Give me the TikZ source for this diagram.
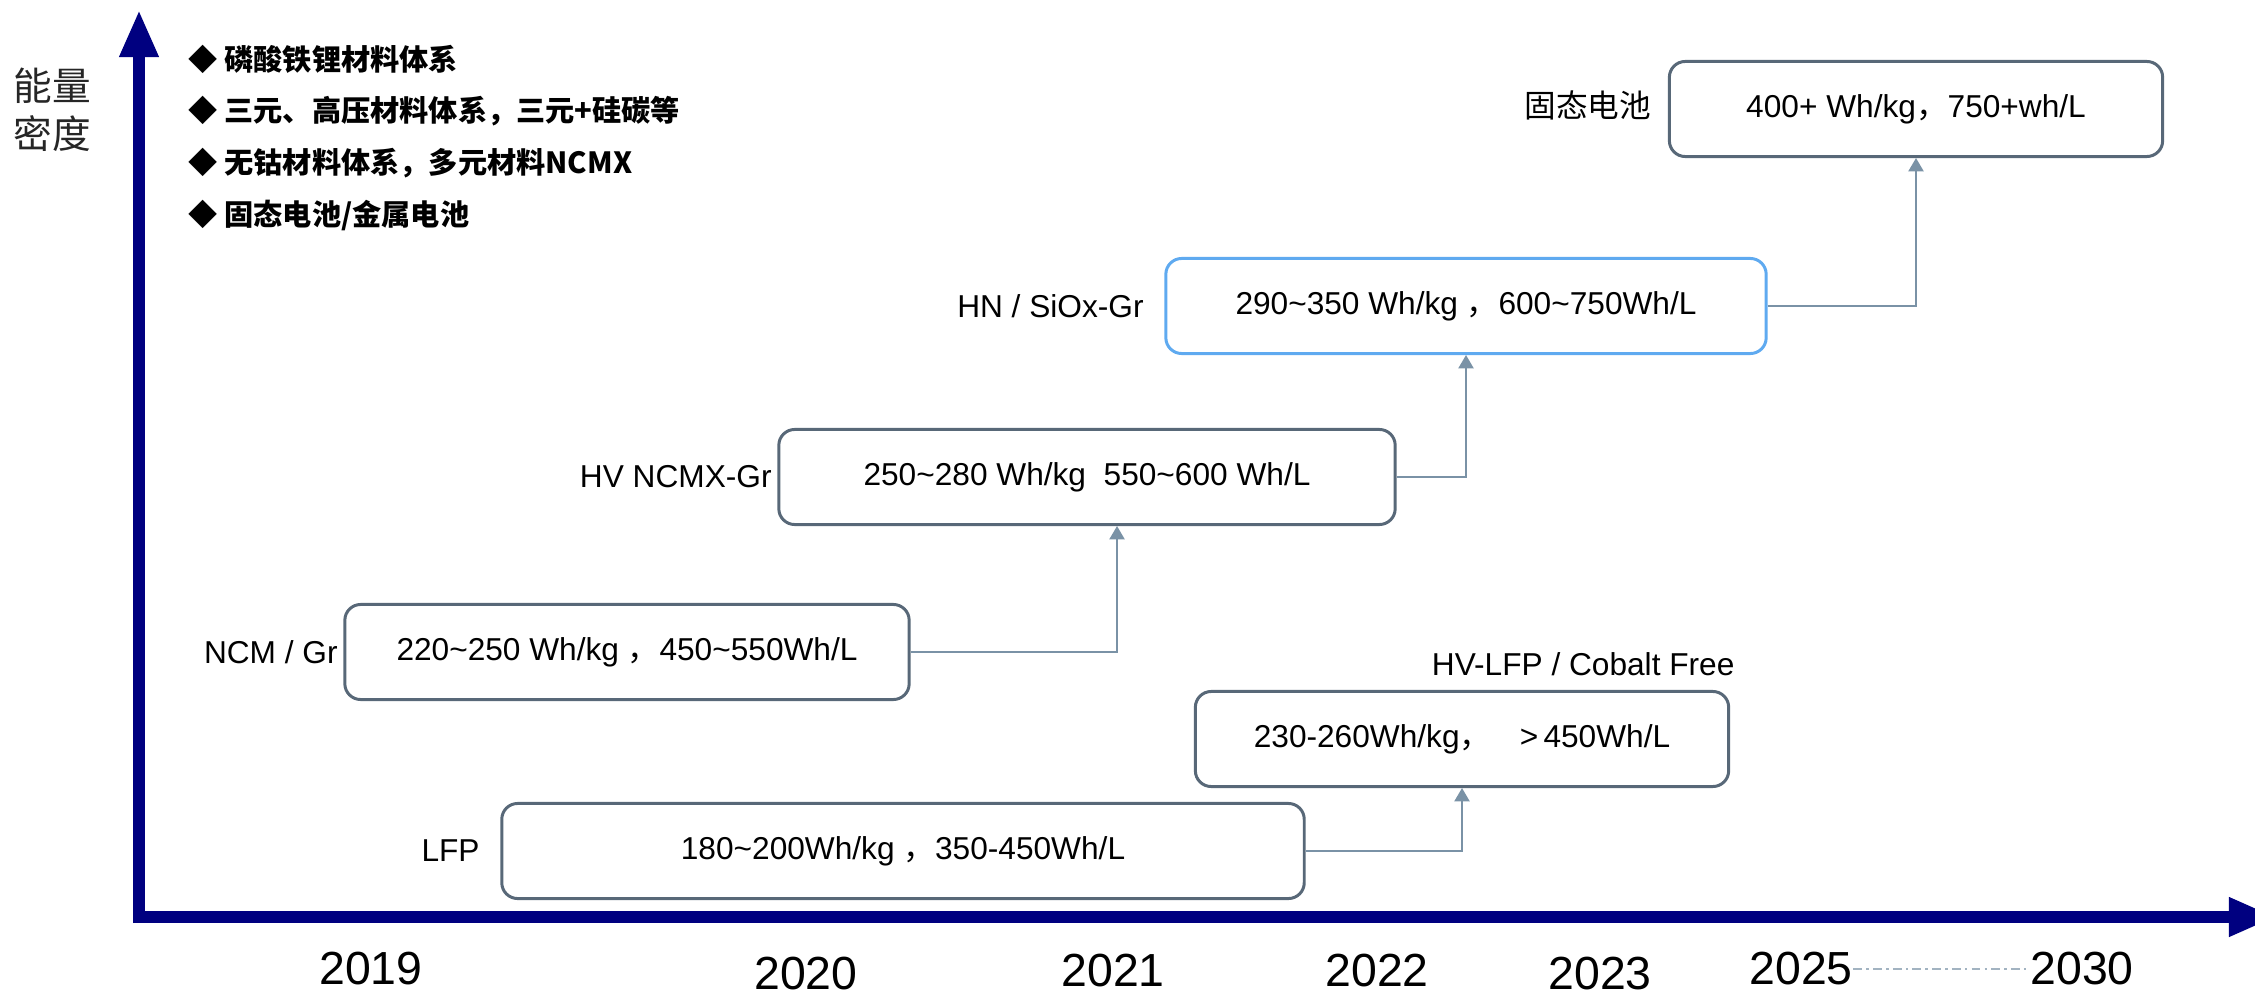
\documentclass[tikz,border=0pt]{standalone}
\usepackage{fontspec}
\setmainfont{Liberation Sans}
\newfontfamily\cjk{Noto Sans CJK SC}
\usepackage{tikz}
\usetikzlibrary{positioning, arrows.meta}
\definecolor{axisnavy}{RGB}{0, 0, 128}
\definecolor{boxgray}{RGB}{88, 104, 120}
\definecolor{boxblue}{RGB}{95, 170, 240}
\definecolor{linkgray}{RGB}{122, 146, 166}
\newcommand{\tld}{\textasciitilde}
\newcommand{\fw}{{\cjk ，}}

\begin{document}
\begin{tikzpicture}[x=0.01cm, y=-0.01cm,
    cellbox/.style={draw=boxgray, line width=0.85pt, rounded corners=4.5pt, inner sep=0pt,
        minimum height=0.95cm, font=\fontsize{9}{11}\selectfont},
    lbl/.style={inner sep=0pt, font=\fontsize{9}{11}\selectfont},
    yr/.style={inner sep=0pt, font=\fontsize{13.2}{15}\selectfont},
    legend/.style={inner sep=0pt, anchor=west, font=\cjk\bfseries\fontsize{8.3}{10}\selectfont},
    link/.style={draw=linkgray, line width=0.55pt, -{Triangle[length=3.8pt, width=4.3pt]}},
    axisline/.style={draw=axisnavy, line width=3.2pt}]
    \clip (0,0) rectangle (2255,997);
    \coordinate (orig) at (139,917);
    \coordinate (ybot) at (139,923);
    \coordinate (ytop) at (139,10);
    \coordinate (xend) at (2276,917);
    \draw[axisline, -{Triangle[length=13.4pt, width=10.4pt]}] (ybot) -- (ytop);
    \draw[axisline, -{Triangle[length=13.4pt, width=10.4pt]}] (orig) -- (xend);
    \node[font=\cjk\fontsize{11}{13.6}\selectfont, align=center, text=black!85] (ylbl) at (52,110) {能量\\密度};
    \foreach \txt [count=\i] in {磷酸铁锂材料体系, 三元、高压材料体系，三元+硅碳等, 无钴材料体系，多元材料NCMX, 固态电池/金属电池}
    {
        \node[legend] (leg\i) at (188,{7+52*\i}) {◆ \txt};
    }
    \node[cellbox, minimum width=8.02cm] (lfp) at (903,851) {180\tld200Wh/kg \fw350-450Wh/L};
    \node[cellbox, minimum width=5.33cm] (hvlfp) at (1462,739) {230-260Wh/kg\fw\hspace{0.9em}>\,450Wh/L};
    \node[cellbox, minimum width=5.64cm] (ncm) at (627,652) {220\tld250 Wh/kg \fw450\tld550Wh/L};
    \node[cellbox, minimum width=6.16cm] (hvncmx) at (1087,477) {250\tld280 Wh/kg\ \ 550\tld600 Wh/L};
    \node[cellbox, draw=boxblue, minimum width=6cm] (hn) at (1466,306) {290\tld350 Wh/kg \fw600\tld750Wh/L};
    \node[cellbox, minimum width=4.93cm] (ss) at (1916,109) {400+ Wh/kg\fw750+wh/L};
    \node[lbl, left=0.2cm of lfp] (lfplbl) {LFP};
    \node[lbl, anchor=east] (hvlfplbl) at ([xshift=0.05cm, yshift=0.26cm]hvlfp.north east) {HV-LFP / Cobalt Free};
    \node[lbl, left=0.05cm of ncm] (ncmlbl) {NCM / Gr};
    \node[lbl, left=0.05cm of hvncmx] (hvncmxlbl) {HV NCMX-Gr};
    \node[lbl, left=0.2cm of hn] (hnlbl) {HN / SiOx-Gr};
    \node[lbl, font=\cjk\fontsize{9}{11}\selectfont, left=0.16cm of ss, yshift=0.04cm] (sslbl) {固态电池};
    \draw[link] (lfp.east) -| (hvlfp.south);
    \draw[link] (ncm.east) -| ([xshift=0.3cm]hvncmx.south);
    \draw[link] (hvncmx.east) -| (hn.south);
    \draw[link] (hn.east) -| (ss.south);
    \foreach \yv/\xp/\yp in {2019/371/969, 2020/806/974, 2021/1113/971, 2022/1377/971, 2023/1600/974, 2025/1801/969, 2030/2082/969}
    {
        \node[yr] (y\yv) at (\xp,\yp) {\yv};
    }
    \draw[linkgray!70, line width=0.5pt, dash pattern=on 2.5pt off 1.2pt on 0.7pt off 1.2pt] (y2025.east) -- (y2030.west);
\end{tikzpicture}
\end{document}
